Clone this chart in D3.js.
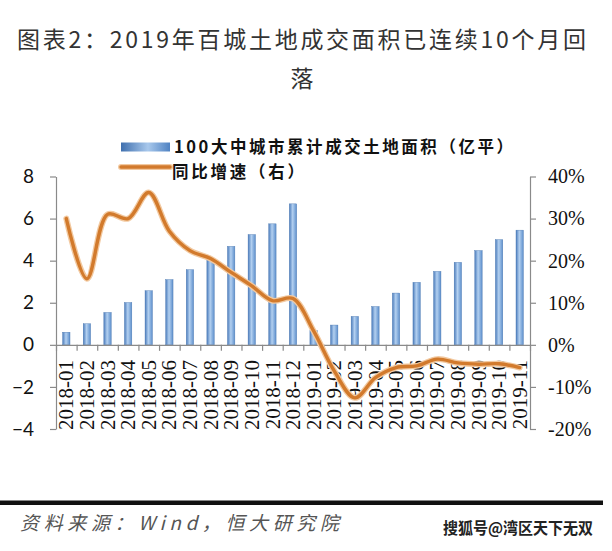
<!DOCTYPE html>
<html>
<head>
<meta charset="utf-8">
<script src="https://cdn.jsdelivr.net/npm/d3@7/dist/d3.min.js"></script>
<style>
  html, body { margin: 0; padding: 0; background: #fff; }
  svg { display: block; }
</style>
</head>
<body>
<svg id="chart" width="612" height="551"></svg>
<script>
// ---------- data ----------
const categories = [
  "2018-01","2018-02","2018-03","2018-04","2018-05","2018-06","2018-07","2018-08",
  "2018-09","2018-10","2018-11","2018-12","2019-01","2019-02","2019-03","2019-04",
  "2019-05","2019-06","2019-07","2019-08","2019-09","2019-10","2019-11"
];
// 100大中城市累计成交土地面积（亿平）
const areaValues = [0.6, 1.0, 1.54, 2.01, 2.57, 3.1, 3.57, 4.08, 4.68, 5.24, 5.75, 6.7,
                    0.67, 0.94, 1.35, 1.82, 2.46, 2.97, 3.49, 3.92, 4.48, 5.0, 5.45];
// 同比增速（右）, %
const yoyValues = [30.0, 15.7, 31.0, 30.0, 36.2, 27.0, 22.4, 20.5, 17.2, 14.0, 10.5, 11.0,
                   3.3, -6.2, -12.6, -7.8, -5.4, -5.0, -3.4, -4.3, -4.6, -4.5, -5.4];
const leftTicks = [-4, -2, 0, 2, 4, 6, 8];
const rightTicks = [-20, -10, 0, 10, 20, 30, 40];
const titleLines = ["图表2：2019年百城土地成交面积已连续10个月回", "落"];
const legendLabels = ["100大中城市累计成交土地面积（亿平）", "同比增速（右）"];
const sourceText = "资料来源：Wind，恒大研究院";
const watermarkText = "搜狐号@湾区天下无双";

// ---------- layout ----------
const svg = d3.select("#chart");
const plotLeft = 56, plotRight = 530, plotTop = 176.5, plotBottom = 429;

const x = d3.scaleBand().domain(categories).range([plotLeft, plotRight]).padding(0);
const xIdx = d3.scaleLinear().domain([0, categories.length]).range([plotLeft, plotRight]);
const yL = d3.scaleLinear().domain([-4, 8]).range([plotBottom, plotTop]);
const yR = d3.scaleLinear().domain([-20, 40]).range([plotBottom, plotTop]);

const axisColor = "#8a8a8a";

// gradient for bars
const defs = svg.append("defs");
const grad = defs.append("linearGradient").attr("id", "barGrad")
  .attr("x1", "0%").attr("x2", "100%").attr("y1", "0%").attr("y2", "0%");
grad.append("stop").attr("offset", "0%").attr("stop-color", "#4b7cbc");
grad.append("stop").attr("offset", "45%").attr("stop-color", "#b3d0f0");
grad.append("stop").attr("offset", "100%").attr("stop-color", "#5d8fcc");

const gradL = defs.append("linearGradient").attr("id", "legGrad")
  .attr("x1", "0%").attr("x2", "100%").attr("y1", "0%").attr("y2", "0%");
gradL.append("stop").attr("offset", "0%").attr("stop-color", "#3f6fae");
gradL.append("stop").attr("offset", "55%").attr("stop-color", "#a8c8ec");
gradL.append("stop").attr("offset", "100%").attr("stop-color", "#4f82c2");

// ---------- title ----------
svg.append("text")
  .attr("x", 17).attr("y", 48)
  .attr("textLength", 569).attr("lengthAdjust", "spacing")
  .style("font-family", "'Noto Sans CJK SC', sans-serif")
  .style("font-size", "23px").style("fill", "#333")
  .text(titleLines[0]);
svg.append("text")
  .attr("x", 302).attr("y", 87).attr("text-anchor", "middle")
  .style("font-family", "'Noto Sans CJK SC', sans-serif")
  .style("font-size", "23px").style("fill", "#333")
  .text(titleLines[1]);

// ---------- bars ----------
const bw = x.bandwidth();
const barW = 7.4;
svg.append("g").selectAll("rect").data(categories).join("rect")
  .attr("x", (c) => x(c) + bw / 2 - barW / 2)
  .attr("width", barW)
  .attr("y", (c, i) => yL(areaValues[i]))
  .attr("height", (c, i) => yL(0) - yL(areaValues[i]))
  .attr("fill", "url(#barGrad)")
  .attr("stroke", "#4a77b0").attr("stroke-width", 0.4);

// ---------- axes ----------
function styleAxis(g) {
  g.selectAll("path.domain").attr("stroke", axisColor).attr("stroke-width", 1.2);
  g.selectAll(".tick line").attr("stroke", axisColor).attr("stroke-width", 1.2);
}

const gL = svg.append("g").attr("transform", `translate(${plotLeft},0)`)
  .call(d3.axisLeft(yL).tickValues(leftTicks).tickSize(6).tickSizeOuter(0).tickPadding(16))
  .call(styleAxis);
gL.selectAll(".tick text")
  .style("font-family", "Lato, 'Open Sans', sans-serif")
  .style("font-size", "19px").style("fill", "#111");

const gR = svg.append("g").attr("transform", `translate(${plotRight},0)`)
  .call(d3.axisRight(yR).tickValues(rightTicks).tickFormat((d) => d + "%")
        .tickSize(6).tickSizeOuter(0).tickPadding(12))
  .call(styleAxis);
gR.selectAll(".tick text")
  .style("font-family", "'Liberation Serif', 'Times New Roman', serif")
  .style("font-size", "20px").style("fill", "#111");

const gX = svg.append("g").attr("transform", `translate(0,${yL(0)})`)
  .call(d3.axisBottom(xIdx).tickValues(d3.range(categories.length + 1))
        .tickFormat("").tickSize(6).tickSizeOuter(0))
  .call(styleAxis);

// category labels (rotated)
svg.append("g").selectAll("text").data(categories).join("text")
  .attr("transform", (c) => `translate(${x(c) + bw / 2},360) rotate(-90)`)
  .attr("text-anchor", "end").attr("dy", "0.34em")
  .style("font-family", "'Liberation Serif', 'Times New Roman', serif")
  .style("font-size", "21px").style("fill", "#111")
  .text((c) => c);

// ---------- line ----------
const line = d3.line()
  .x((d, i) => x(categories[i]) + bw / 2)
  .y((d) => yR(d))
  .curve(d3.curveCatmullRom.alpha(0.5));
svg.append("path").datum(yoyValues)
  .attr("d", line).attr("fill", "none")
  .attr("stroke", "#f2c9a0").attr("stroke-width", 6).attr("stroke-linecap", "round")
  .attr("stroke-linejoin", "round");
svg.append("path").datum(yoyValues)
  .attr("d", line).attr("fill", "none")
  .attr("stroke", "#d27a2c").attr("stroke-width", 3.4).attr("stroke-linecap", "round")
  .attr("stroke-linejoin", "round");

// ---------- legend ----------
const leg = svg.append("g");
leg.append("rect").attr("x", 121).attr("y", 142.5).attr("width", 49).attr("height", 9)
  .attr("fill", "url(#legGrad)");
leg.append("text").attr("x", 174).attr("y", 153)
  .style("font-family", "'Noto Sans CJK SC', sans-serif").style("font-weight", "bold")
  .style("font-size", "16.5px").style("fill", "#111")
  .attr("textLength", 339).attr("lengthAdjust", "spacing")
  .text(legendLabels[0]);
leg.append("line").attr("x1", 121).attr("x2", 170).attr("y1", 167).attr("y2", 167)
  .attr("stroke", "#f2c9a0").attr("stroke-width", 6).attr("stroke-linecap", "round");
leg.append("line").attr("x1", 121).attr("x2", 170).attr("y1", 167).attr("y2", 167)
  .attr("stroke", "#d27a2c").attr("stroke-width", 3.4).attr("stroke-linecap", "round");
leg.append("text").attr("x", 172).attr("y", 177.5)
  .attr("textLength", 132).attr("lengthAdjust", "spacing")
  .style("font-family", "'Noto Sans CJK SC', sans-serif").style("font-weight", "bold")
  .style("font-size", "16.5px").style("fill", "#111")
  .text(legendLabels[1]);

// ---------- footer ----------
svg.append("rect").attr("x", 0).attr("y", 500.5).attr("width", 603).attr("height", 4.5)
  .attr("fill", "#111");
svg.append("text").attr("x", 20).attr("y", 530)
  .attr("textLength", 319).attr("lengthAdjust", "spacing")
  .style("font-family", "'Noto Sans CJK SC', sans-serif").style("font-style", "italic")
  .style("font-size", "19px").style("fill", "#555")
  .text(sourceText);
svg.append("text").attr("x", 443).attr("y", 534)
  .attr("textLength", 150).attr("lengthAdjust", "spacingAndGlyphs")
  .style("font-family", "'Noto Sans CJK SC', sans-serif").style("font-weight", "bold")
  .style("font-size", "16px").style("fill", "#222")
  .style("stroke", "#fff").style("stroke-width", 0.6).style("paint-order", "stroke")
  .text(watermarkText);
</script>
</body>
</html>
